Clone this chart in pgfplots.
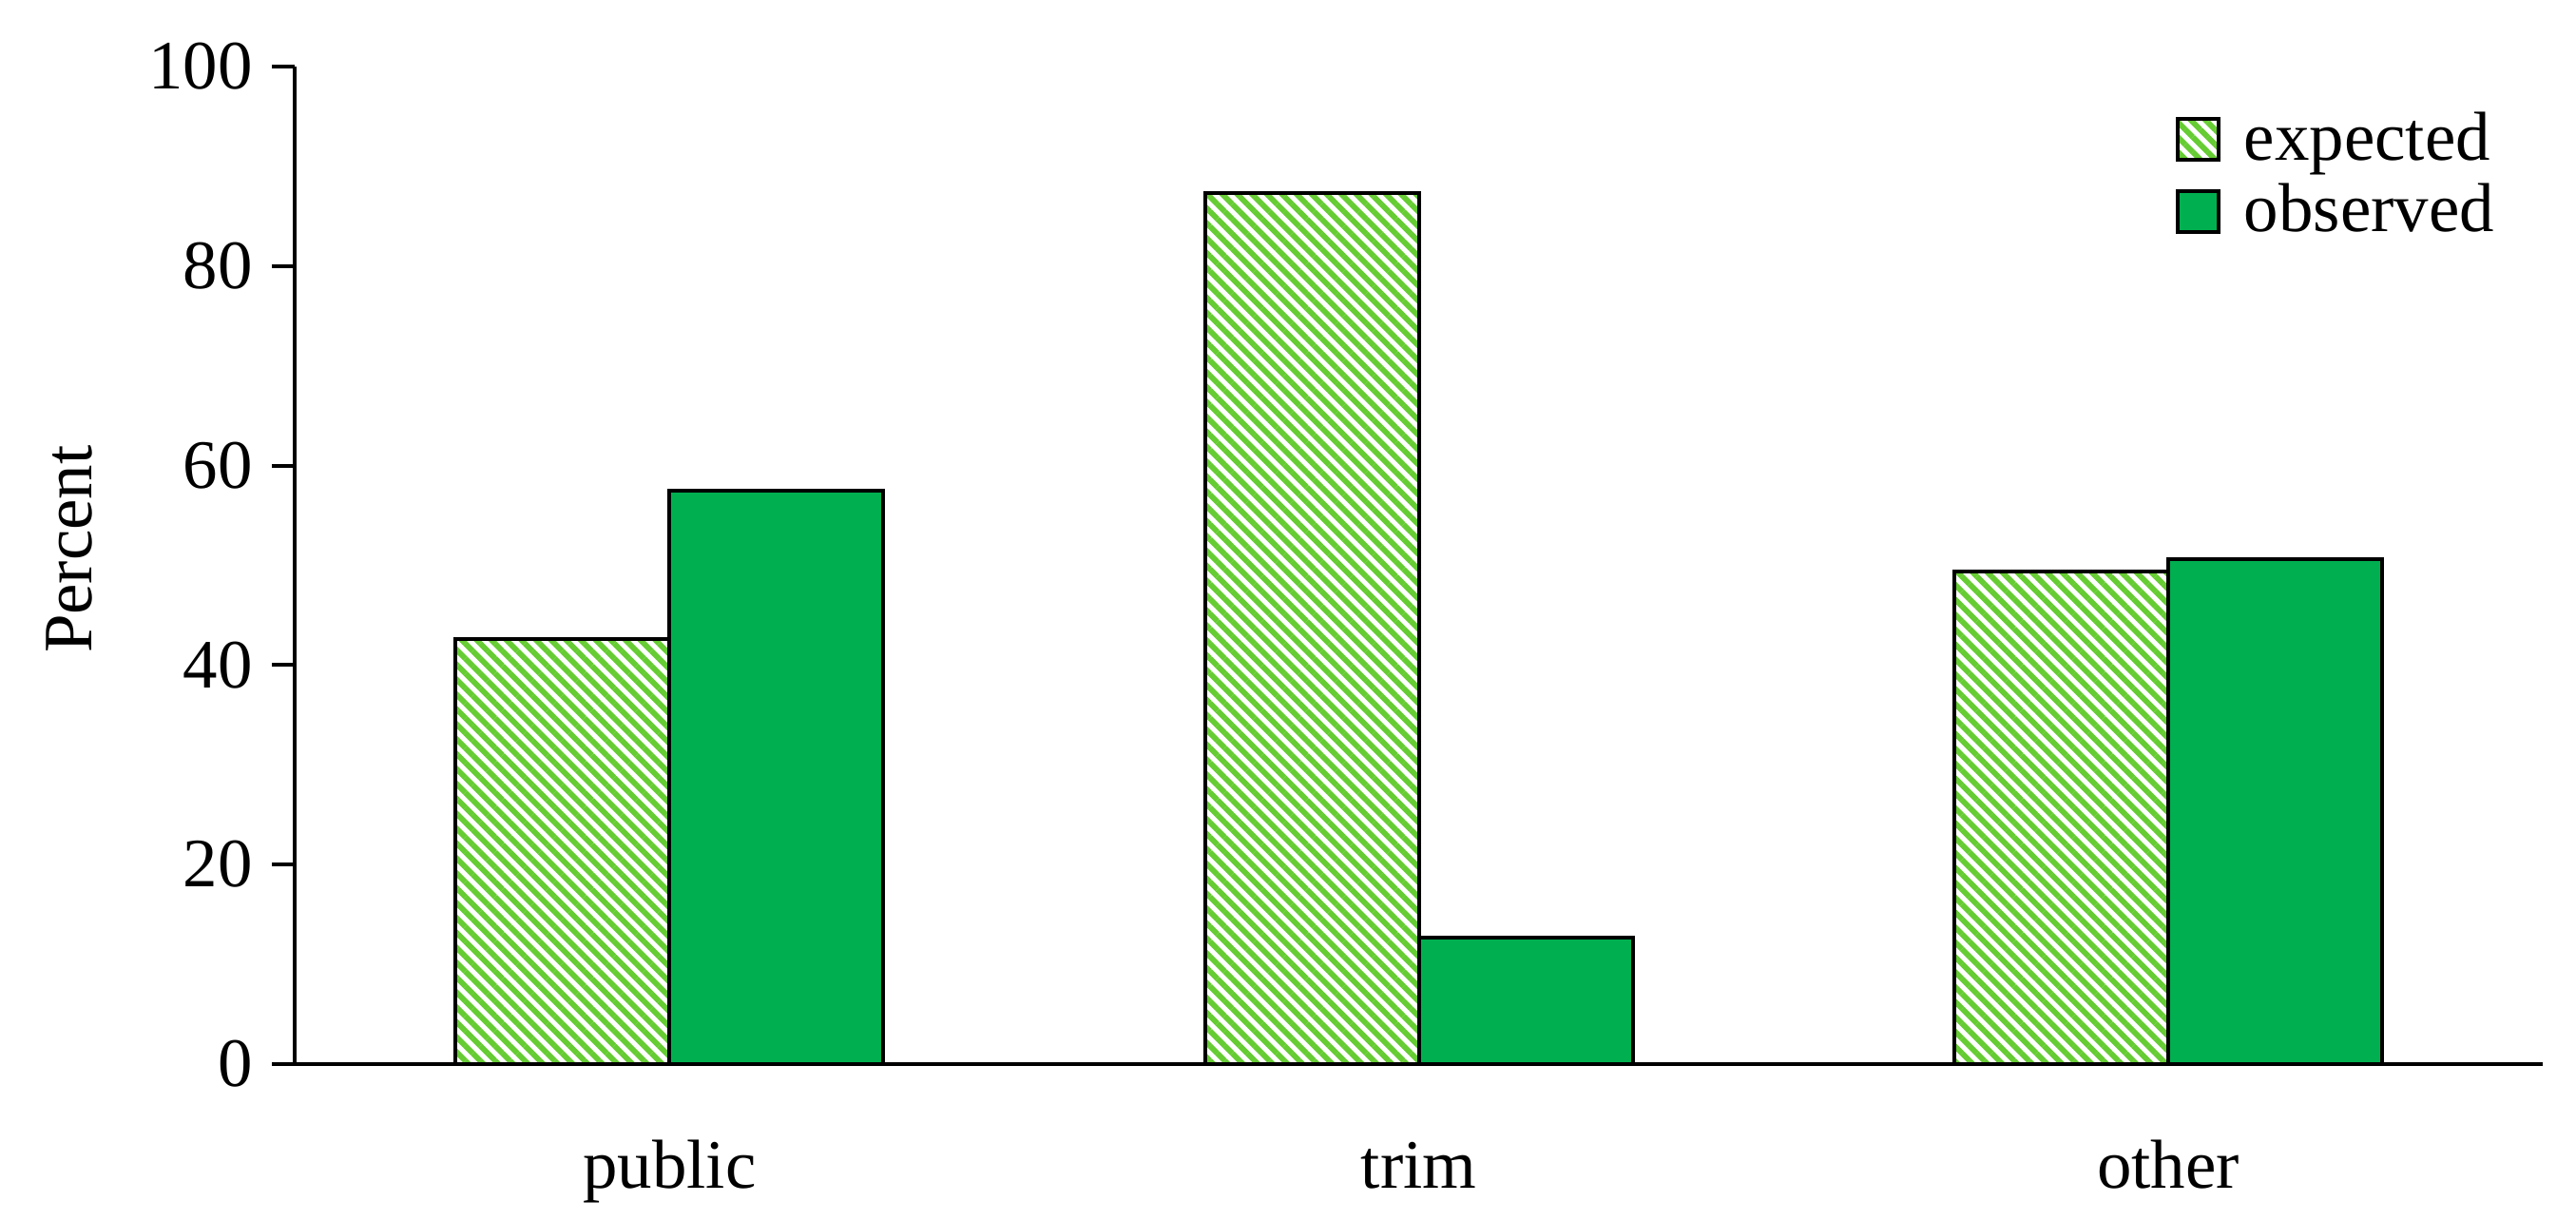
\documentclass[border=0pt]{standalone}
\usepackage{fontspec}
\setmainfont{Liberation Serif}
\usepackage{pgfplots}
\pgfplotsset{compat=1.18}
\usetikzlibrary{patterns.meta}

\definecolor{obsgreen}{RGB}{0,176,80}
\definecolor{hatchgreen}{RGB}{102,204,51}

\begin{document}
\begin{tikzpicture}
% page size, set before the axis
\path[use as bounding box] (-53.2pt,-28.3pt) rectangle (411.6pt,191.9pt);
\begin{axis}[
  scale only axis,
  width=405.6pt, height=179.9pt,
  xmin=-0.5, xmax=2.5, ymin=0, ymax=100,
  axis x line*=bottom, axis y line*=left,
  axis line style={line width=0.7pt, black},
  ybar=0pt, bar width=38.6pt,
  xtick={0,1,2}, xticklabels={public,trim,other},
  x tick style={draw=none},
  ytick={0,20,...,100},
  y tick style={line width=0.7pt, black},
  tick align=outside, major tick length=4.1pt,
  /pgf/number format/assume math mode=true,
  tick label style={font=\fontsize{12.5}{15}\selectfont},
  xticklabel style={anchor=base, yshift=-18.3pt},
  ylabel={Percent},
  every axis y label/.style={at={(axis description cs:0,0.516)}, xshift=-36.6pt,
    rotate=90, anchor=base, font=\fontsize{12.5}{15}\selectfont},
  legend image code/.code={\draw[#1, draw=black, line width=0.7pt] (0pt,-3.7pt) rectangle (7.4pt,3.7pt);},
  legend cell align=left,
  legend style={draw=none, fill=none, inner sep=0pt, outer sep=0pt,
    at={(0.8366,0.954)}, anchor=north west,
    font=\fontsize{12.5}{15}\selectfont,
    nodes={inner sep=0pt, text height=8.6pt, text depth=1.2pt},
    row sep=3.15pt,
    /tikz/every odd column/.append style={column sep=4.3pt}},
]
\addplot[draw=black, line width=0.7pt, pattern={Lines[angle=-45,distance=1.9pt,line width=1.0pt]}, pattern color=hatchgreen]
  coordinates {(0,42.6) (1,87.3) (2,49.4)};
\addlegendentry{expected}
\addplot[draw=black, line width=0.7pt, fill=obsgreen]
  coordinates {(0,57.5) (1,12.7) (2,50.6)};
\addlegendentry{observed}
\end{axis}
\end{tikzpicture}
\end{document}
